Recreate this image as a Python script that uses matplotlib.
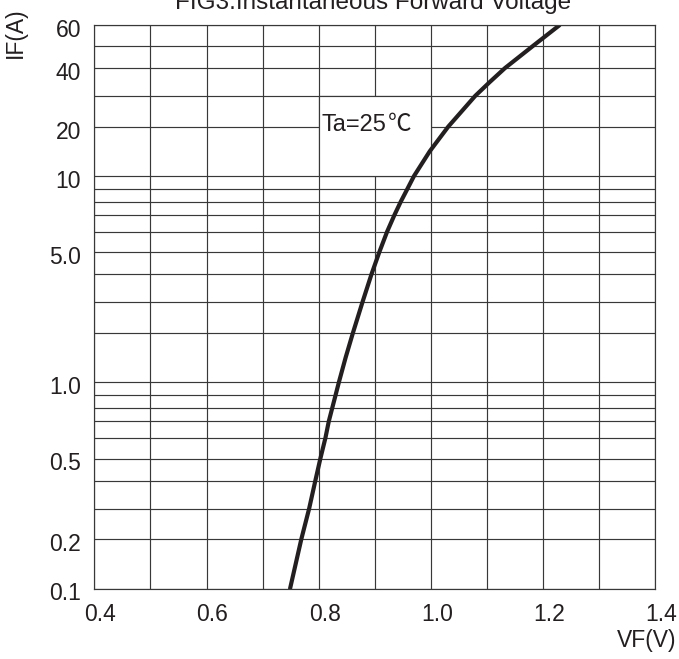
import numpy as np
import matplotlib
matplotlib.use("Agg")
import matplotlib.pyplot as plt
from matplotlib.patches import Rectangle
from matplotlib.transforms import ScaledTranslation

plt.rcParams['font.family'] = ['Liberation Sans', 'Noto Sans CJK SC', 'DejaVu Sans']

# ---- data ----
vf = [0.749, 0.769, 0.783, 0.794, 0.803, 0.812, 0.818, 0.824, 0.830, 0.836,
      0.848, 0.861, 0.878, 0.894, 0.908, 0.922, 0.935, 0.946, 0.958, 0.970,
      0.998, 1.031, 1.055, 1.079, 1.105, 1.132, 1.157, 1.182, 1.229]
if_a = [0.1, 0.2, 0.3, 0.4, 0.5, 0.6, 0.7, 0.8, 0.9, 1.0,
        1.5, 2, 3, 4, 5, 6, 7, 8, 9, 10,
        15, 20, 25, 30, 35, 40, 45, 50, 60]

x_ticks = [0.4, 0.6, 0.8, 1.0, 1.2, 1.4]
x_ticklabels = ['0.4', '0.6', '0.8', '1.0', '1.2', '1.4']
x_grid = [0.4, 0.5, 0.6, 0.7, 0.8, 0.9, 1.0, 1.1, 1.2, 1.3, 1.4]

y_ticks = [0.1, 0.2, 0.5, 1.0, 5.0, 10, 20, 40, 60]
y_ticklabels = ['0.1', '0.2', '0.5', '1.0', '5.0', '10', '20', '40', '60']
y_grid = [0.1, 0.2, 0.3, 0.4, 0.5, 0.6, 0.7, 0.8, 0.9, 1.0,
          2, 3, 4, 5, 6, 7, 8, 9, 10, 20, 30, 40, 50, 60]

title = 'FIG3.Instantaneous Forward Voltage'
annotation_main = 'Ta=25'
annotation_unit = '\u2103'

# the chart's log paper is drawn with its own per-decade spacing
decade_mantissa = [1, 2, 3, 4, 5, 6, 7, 8, 9, 10]
decade_offset = np.array([0, 49.3, 80.0, 107.8, 130.0, 150.6, 167.2, 180.2, 193.2, 206.3]) / 206.3


def fwd(v):
    v = np.asarray(v, dtype=float)
    out = np.full(v.shape, np.nan)
    ok = v > 0
    lv = np.log10(v[ok])
    d = np.floor(lv + 1e-12)
    m = 10 ** (lv - d)
    out[ok] = d + np.interp(m, decade_mantissa, decade_offset)
    return out


def inv(p):
    p = np.asarray(p, dtype=float)
    d = np.floor(p + 1e-12)
    f = p - d
    m = np.interp(f, decade_offset, decade_mantissa)
    return m * 10 ** d


W, H = 679, 659
fs = 16.5
ink = '#231f20'
fig = plt.figure(figsize=(W / 100, H / 100), dpi=100)
ax = fig.add_axes([94.3 / W, 1 - 588.5 / H, (655.3 - 94.3) / W, (588.5 - 25.3) / H])

ax.set_yscale('function', functions=(fwd, inv))
ax.set_xlim(0.4, 1.4)
ax.set_ylim(0.1, 60)

grid_color = '#383838'
ax.set_xticks(x_ticks)
ax.set_xticklabels(x_ticklabels)
ax.set_xticks(x_grid, minor=True)
ax.set_yticks(y_ticks)
ax.set_yticklabels(y_ticklabels)
ax.set_yticks(y_grid, minor=True)
ax.yaxis.set_minor_formatter(plt.NullFormatter())
ax.tick_params(which='both', length=0, labelsize=fs, colors=ink)
ax.tick_params(axis='x', pad=10.5)
ax.tick_params(axis='y', pad=9.5)
ax.set_axisbelow(True)
ax.grid(which='both', color=grid_color, linewidth=0.85)
for s in ax.spines.values():
    s.set_color(grid_color)
    s.set_linewidth(0.85)

# shift tick labels slightly as in the reference
for lab in ax.get_xticklabels():
    lab.set_transform(lab.get_transform() + ScaledTranslation(6 / 100, 0, fig.dpi_scale_trans))
for lab in ax.get_yticklabels():
    lab.set_transform(lab.get_transform() + ScaledTranslation(0, -3 / 100, fig.dpi_scale_trans))

# white label cell
ax.add_patch(Rectangle((0.8, 10), 0.2, 20, facecolor='white', edgecolor=grid_color,
                       linewidth=0.85, zorder=1))
ax.text(0.8055, 19.2, annotation_main, fontsize=17, ha='left', va='baseline',
        color=ink, zorder=3)
ax.text(0.9225, 19.2, annotation_unit, fontsize=17, ha='left', va='baseline',
        color=ink, zorder=3, family=['Noto Sans CJK SC', 'DejaVu Sans'], fontweight='light')

ax.plot(vf, if_a, color=ink, linewidth=3.0, solid_capstyle='round',
        solid_joinstyle='round', zorder=2)

fig.text(373 / W, 1 - 9 / H, title, fontsize=17.5, ha='center', va='baseline', color=ink)
fig.text(15 / W, 1 - 33 / H, 'IF(A)', fontsize=fs, rotation=90, ha='center', va='center',
         color=ink)
fig.text(676 / W, 1 - 641 / H, 'VF(V)', fontsize=fs, ha='right', va='center', color=ink)

fig.savefig('out.png', dpi=100)
